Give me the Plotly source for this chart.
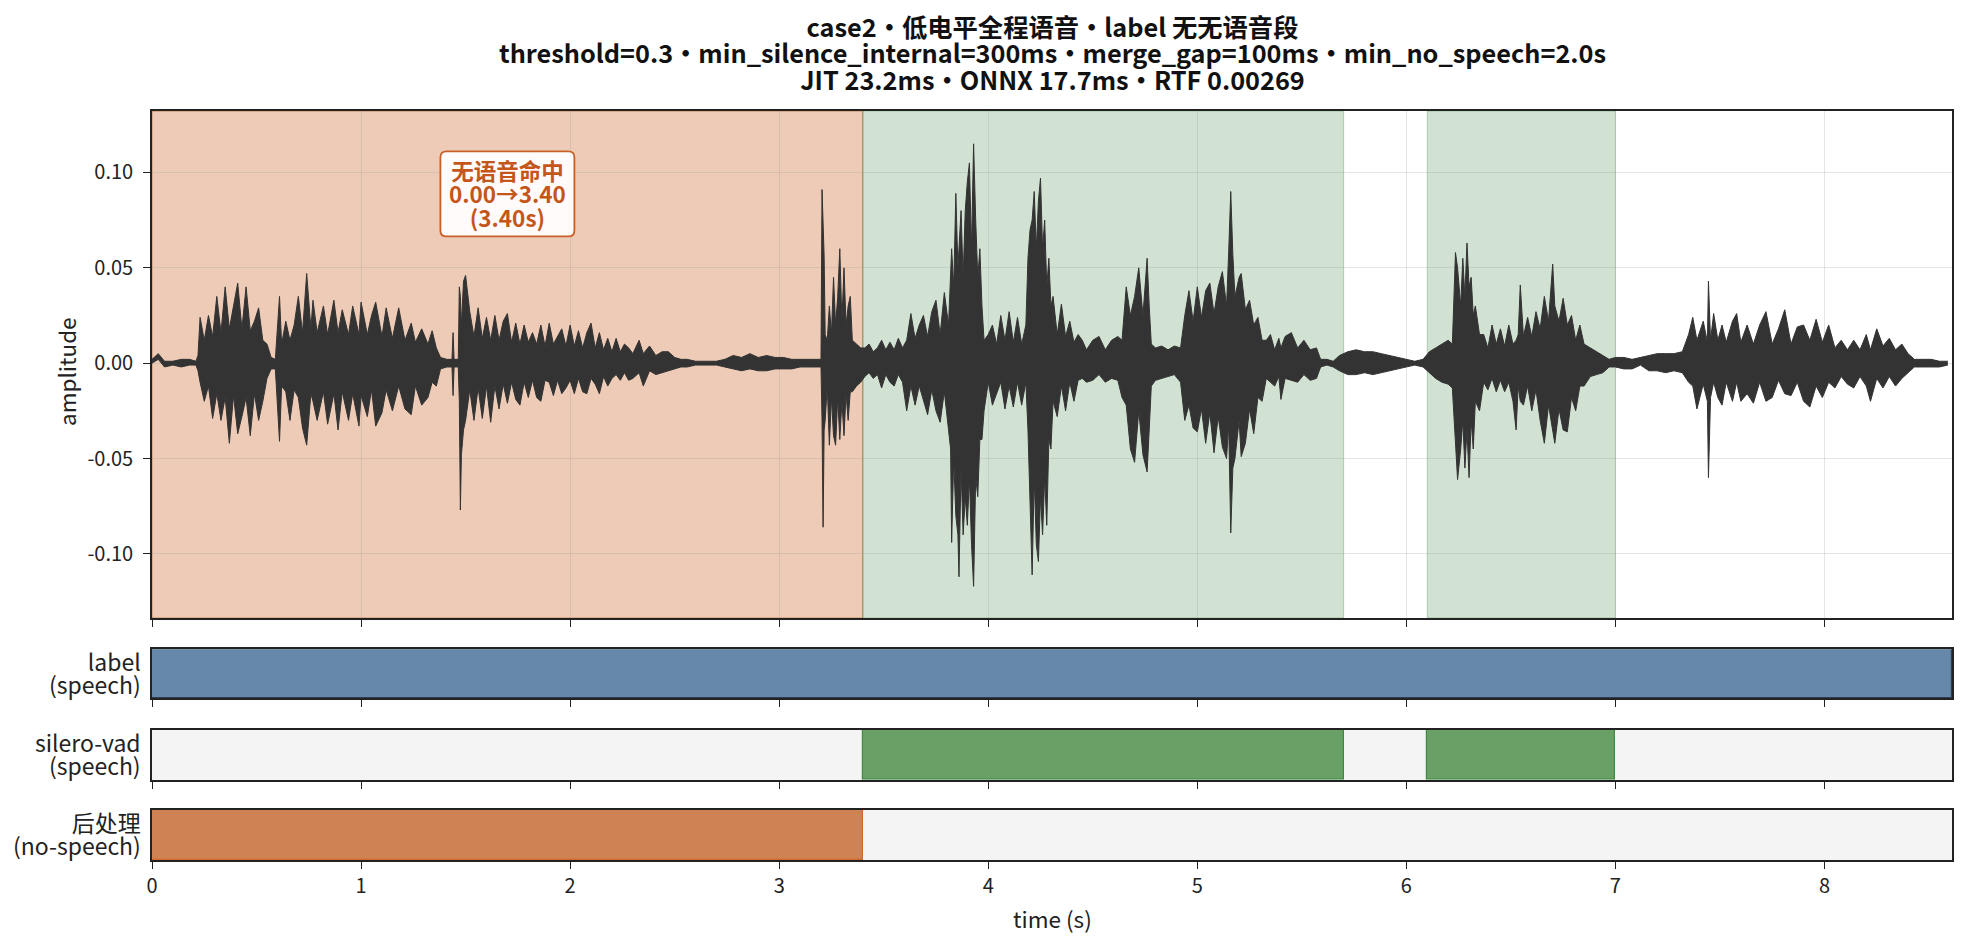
import plotly.graph_objects as go

# ---------------- data ----------------
duration = 8.61
title_lines = [
    "case2・低电平全程语音・label 无无语音段",
    "threshold=0.3・min_silence_internal=300ms・merge_gap=100ms・min_no_speech=2.0s",
    "JIT 23.2ms・ONNX 17.7ms・RTF 0.00269",
]

# waveform envelope: time (s), upper and lower excursion
wave_t = [
    0.00, 0.03, 0.06, 0.10, 0.14, 0.18, 0.21,
    0.22, 0.23, 0.25, 0.27, 0.29, 0.31, 0.33, 0.35, 0.37, 0.39, 0.41, 0.43, 0.45, 0.47, 0.49, 0.51, 0.53, 0.55, 0.57, 0.59,
    0.61, 0.62, 0.64, 0.66, 0.68, 0.70, 0.72, 0.74, 0.76, 0.77, 0.79, 0.82, 0.84, 0.87, 0.89, 0.91, 0.94, 0.96, 0.99,
    1.00, 1.03, 1.05, 1.07, 1.10, 1.12, 1.15, 1.18, 1.21, 1.24, 1.26, 1.29, 1.32, 1.34, 1.36, 1.38, 1.41,
    1.435, 1.44, 1.445, 1.465, 1.47, 1.475, 1.48, 1.49, 1.50,
    1.52, 1.54, 1.56, 1.58, 1.60, 1.62, 1.64, 1.66, 1.68, 1.70, 1.72, 1.74, 1.76, 1.78, 1.80, 1.82, 1.84, 1.86, 1.88,
    1.90, 1.92, 1.94, 1.96, 1.98, 2.00, 2.02, 2.04, 2.06, 2.08, 2.10, 2.12, 2.14, 2.16, 2.18, 2.20, 2.22, 2.24, 2.26,
    2.28, 2.30, 2.33, 2.35, 2.38, 2.41, 2.44, 2.47, 2.50, 2.53, 2.56, 2.60, 2.65, 2.70, 2.74, 2.78, 2.82, 2.86, 2.90,
    2.94, 2.98, 3.02, 3.06, 3.10, 3.14, 3.18, 3.20,
    3.205, 3.21, 3.215, 3.22, 3.23, 3.24, 3.25, 3.26, 3.27, 3.28, 3.29, 3.30, 3.31, 3.32, 3.33, 3.34, 3.35, 3.37, 3.39,
    3.41, 3.43, 3.45, 3.47, 3.49, 3.51, 3.53, 3.55, 3.57, 3.59, 3.61, 3.63, 3.65, 3.67, 3.69, 3.71, 3.73, 3.75, 3.77,
    3.79, 3.81, 3.82, 3.825, 3.835, 3.845, 3.855, 3.86, 3.87, 3.88, 3.89, 3.90, 3.91, 3.92, 3.93, 3.94, 3.95, 3.96,
    3.97, 3.98, 4.00, 4.02, 4.04, 4.06, 4.08, 4.10, 4.12, 4.14, 4.16, 4.18,
    4.19, 4.20, 4.21, 4.22, 4.23, 4.24, 4.25, 4.26, 4.27, 4.28, 4.29, 4.30, 4.31, 4.33, 4.35, 4.37, 4.39, 4.41, 4.43,
    4.45, 4.47, 4.50, 4.53, 4.56, 4.59, 4.62, 4.64, 4.66, 4.68, 4.70, 4.72, 4.74, 4.76, 4.77, 4.78, 4.80, 4.83, 4.86,
    4.89, 4.92, 4.94, 4.96, 4.98, 5.00, 5.02, 5.04, 5.06, 5.08, 5.10, 5.12, 5.14, 5.15, 5.16, 5.17, 5.18, 5.20, 5.21,
    5.23, 5.25, 5.27, 5.29, 5.31, 5.33, 5.35, 5.37, 5.39, 5.40, 5.42, 5.45, 5.48, 5.51, 5.54, 5.57, 5.59, 5.62, 5.65,
    5.68, 5.72, 5.76, 5.80, 5.84, 5.88, 5.92, 5.96, 6.00, 6.04, 6.08, 6.11, 6.14, 6.17, 6.20, 6.22,
    6.235, 6.245, 6.26, 6.27, 6.28, 6.29, 6.30, 6.31, 6.32, 6.33, 6.35, 6.37, 6.39, 6.41, 6.43, 6.45, 6.47, 6.49, 6.51,
    6.525, 6.535, 6.545, 6.56, 6.58, 6.60, 6.62, 6.64, 6.66, 6.68, 6.70, 6.71, 6.73, 6.75, 6.77, 6.79, 6.81, 6.83, 6.85,
    6.88, 6.91, 6.94, 6.97, 7.00, 7.04, 7.08, 7.12, 7.16, 7.20, 7.24, 7.28, 7.32, 7.35, 7.37, 7.39, 7.42, 7.44,
    7.445, 7.455, 7.47, 7.49, 7.51, 7.53, 7.56, 7.58, 7.60, 7.63, 7.66, 7.69, 7.72, 7.75, 7.78, 7.81, 7.84, 7.87, 7.90,
    7.93, 7.96, 7.99, 8.02, 8.05, 8.08, 8.11, 8.14, 8.17, 8.20, 8.22, 8.25, 8.28, 8.31, 8.34, 8.37, 8.40, 8.43, 8.47,
    8.51, 8.55, 8.59,
]
wave_hi = [
    .002, .005, .001, .001, .002, .002, .001,
    .004, .024, .012, .025, .014, .035, .016, .040, .018, .030, .042, .018, .040, .017, .022, .029, .012, .010, .003, .002,
    .035, .010, .022, .012, .020, .035, .016, .047, .018, .033, .016, .030, .015, .033, .016, .028, .015, .030, .015,
    .032, .015, .025, .032, .014, .029, .013, .029, .012, .021, .011, .018, .010, .017, .008, .003, .002,
    .002, .016, .002, .002, .040, .035, .020, .043, .046,
    .027, .014, .029, .013, .024, .012, .025, .012, .022, .026, .011, .021, .010, .020, .011, .016, .010, .020, .009,
    .021, .010, .014, .018, .009, .020, .009, .017, .008, .016, .021, .008, .016, .007, .013, .006, .013, .006, .010,
    .008, .005, .012, .005, .009, .004, .006, .006, .003, .002, .002, .001, .001, .001, .002, .004, .003, .005, .003,
    .004, .003, .003, .002, .002, .002, .002, .002,
    .091, .075, .056, .015, .012, .030, .015, .045, .020, .035, .060, .022, .050, .020, .030, .035, .012, .010, .008,
    .008, .010, .006, .008, .012, .007, .011, .007, .013, .008, .012, .026, .013, .020, .025, .014, .027, .033, .015,
    .037, .020, .045, .060, .040, .089, .050, .060, .080, .045, .080, .095, .105, .060, .115, .075, .045, .060,
    .030, .012, .015, .020, .010, .025, .012, .027, .011, .024, .010, .020,
    .055, .070, .075, .090, .060, .085, .097, .060, .075, .040, .055, .030, .035, .015, .031, .014, .022, .011, .015,
    .012, .007, .012, .014, .007, .012, .014, .012, .040, .025, .035, .050, .025, .055, .030, .010, .008, .009, .007,
    .009, .008, .025, .038, .022, .040, .024, .038, .042, .026, .040, .048, .030, .058, .090, .057, .035, .045, .047,
    .028, .033, .020, .024, .012, .012, .015, .007, .013, .008, .014, .016, .008, .012, .007, .008, .002, .002, .001,
    .004, .006, .007, .006, .006, .005, .004, .003, .002, .001, .002, .006, .008, .010, .012, .010,
    .058, .050, .030, .055, .035, .063, .040, .045, .025, .030, .015, .015, .008, .020, .010, .018, .009, .020, .010,
    .012, .015, .041, .014, .024, .014, .027, .018, .035, .022, .052, .030, .022, .034, .020, .025, .012, .020, .010,
    .008, .006, .004, .002, .003, .003, .002, .003, .004, .005, .005, .005, .006, .015, .024, .012, .022, .011,
    .043, .012, .026, .012, .020, .011, .022, .026, .011, .020, .010, .020, .027, .010, .018, .028, .010, .019, .020,
    .012, .023, .011, .020, .008, .012, .007, .012, .007, .015, .007, .018, .009, .013, .007, .010, .005, .002, .002,
    .002, .001, .001,
]
wave_lo = [
    .000, .002, -.002, -.001, -.002, -.001, -.001,
    -.004, -.010, -.020, -.012, -.029, -.016, -.030, -.018, -.042, -.017, -.037, -.028, -.018, -.038, -.016, -.030, -.020, -.008, -.003, -.003,
    -.041, -.012, -.015, -.030, -.014, -.018, -.034, -.043, -.016, -.020, -.030, -.015, -.032, -.016, -.035, -.015, -.030, -.016, -.033,
    -.017, -.028, -.014, -.033, -.026, -.014, -.025, -.012, -.024, -.027, -.012, -.022, -.018, -.010, -.012, -.003, -.002,
    -.002, -.017, -.002, -.002, -.020, -.077, -.048, -.035, -.030,
    -.014, -.030, -.013, -.029, -.012, -.031, -.012, -.024, -.011, -.021, -.010, -.019, -.022, -.010, -.018, -.009, -.018, -.020, -.009,
    -.010, -.017, -.009, -.016, -.013, -.009, -.016, -.008, -.015, -.016, -.008, -.011, -.016, -.007, -.012, -.008, -.006, -.009, -.005,
    -.009, -.008, -.005, -.012, -.004, -.006, -.005, -.004, -.003, -.002, -.002, -.001, -.001, -.001, -.002, -.003, -.004, -.003, -.004,
    -.004, -.003, -.003, -.003, -.002, -.002, -.002, -.002,
    -.030, -.086, -.035, -.030, -.012, -.043, -.018, -.038, -.043, -.018, -.040, -.020, -.038, -.016, -.030, -.015, -.015, -.012, -.010,
    -.007, -.005, -.008, -.006, -.013, -.006, -.010, -.012, -.006, -.010, -.025, -.012, -.022, -.012, -.020, -.027, -.014, -.025, -.031,
    -.015, -.035, -.045, -.094, -.050, -.080, -.090, -.112, -.055, -.090, -.070, -.085, -.060, -.095, -.117, -.060, -.070, -.040,
    -.040, -.025, -.010, -.022, -.016, -.010, -.024, -.012, -.023, -.010, -.022, -.010,
    -.035, -.080, -.111, -.060, -.095, -.104, -.070, -.090, -.060, -.085, -.040, -.045, -.020, -.028, -.012, -.025, -.010, -.020, -.009,
    -.008, -.010, -.009, -.006, -.010, -.008, -.009, -.018, -.022, -.045, -.052, -.025, -.048, -.057, -.035, -.012, -.009, -.008, -.007,
    -.006, -.010, -.030, -.022, -.034, -.036, -.024, -.042, -.026, -.047, -.028, -.044, -.050, -.032, -.089, -.055, -.050, -.030, -.049,
    -.042, -.024, -.037, -.018, -.020, -.008, -.010, -.012, -.007, -.019, -.008, -.009, -.010, -.006, -.009, -.008, -.002, -.001, -.002,
    -.004, -.006, -.006, -.005, -.006, -.005, -.004, -.003, -.002, -.001, -.002, -.005, -.008, -.010, -.011, -.013,
    -.040, -.061, -.045, -.030, -.055, -.035, -.060, -.030, -.045, -.020, -.025, -.010, -.014, -.008, -.015, -.009, -.015, -.010, -.020,
    -.035, -.012, -.020, -.022, -.012, -.025, -.014, -.030, -.042, -.022, -.036, -.042, -.024, -.035, -.036, -.018, -.025, -.012, -.012,
    -.007, -.006, -.005, -.002, -.002, -.003, -.003, -.001, -.004, -.004, -.005, -.004, -.005, -.010, -.012, -.024, -.011, -.020,
    -.060, -.018, -.010, -.018, -.022, -.010, -.020, -.010, -.020, -.016, -.021, -.010, -.020, -.018, -.009, -.016, -.017, -.010, -.020,
    -.023, -.012, -.018, -.010, -.013, -.007, -.011, -.013, -.007, -.012, -.020, -.008, -.013, -.007, -.012, -.008, -.005, -.002, -.002,
    -.002, -.002, -.001,
]
assert len(wave_t) == len(wave_hi) == len(wave_lo), (len(wave_t), len(wave_hi), len(wave_lo))

# segments (start s, end s)
label_speech = [(0.0, 8.61)]
vad_speech = [(3.4, 5.7), (6.1, 7.0)]
post_nospeech = [(0.0, 3.4)]

y_ticks = [-0.10, -0.05, 0.00, 0.05, 0.10]
y_ticktext = ["-0.10", "-0.05", "0.00", "0.05", "0.10"]
x_ticks = [0, 1, 2, 3, 4, 5, 6, 7, 8]

annot_lines = ["无语音命中", "0.00→3.40", "(3.40s)"]
row_labels = [("label", "(speech)"), ("silero-vad", "(speech)"), ("后处理", "(no-speech)")]

# ---------------- styles ----------------
FONT = "Noto Sans CJK SC"
INK = "#222222"
C_BLUE, C_BLUE_E = "#6689ab", "#2c3e55"
C_GREEN, C_GREEN_E = "#68a066", "#3f8a3f"
C_ORANGE, C_ORANGE_E = "#cf8254", "#d0692d"
C_EMPTY = "#f4f4f4"
SPAN_ORANGE = "rgba(205,110,55,0.36)"
SPAN_GREEN = "rgba(46,125,50,0.22)"
ANN_COLOR = "#c4561a"
WAVE = "#333333"


def multiline(lines, glyph_px, bold=False):
    """Lines joined with <br>; glyph size set per span so the outer font size controls line spacing."""
    parts = []
    for ln in lines:
        s = f"<span style='font-size:{glyph_px}px'>{ln}</span>"
        parts.append(f"<b>{s}</b>" if bold else s)
    return "<br>".join(parts)


# page has an 8px body margin; figure is sized so the plot lands where the reference has it
W, H = 1953, 931
ML, MR, MT, MB = 144, 7, 102.5, 79
PLOT_H = H - MT - MB
dom_main = [0.3231, 1.0]
dom_label = [0.2159, 0.2813]
dom_vad = [0.1070, 0.1740]
dom_post = [0.0, 0.0668]

fig = go.Figure()

# waveform (envelope, filled)
fig.add_trace(go.Scatter(x=wave_t, y=wave_hi, mode="lines",
                         line=dict(color=WAVE, width=1), xaxis="x", yaxis="y",
                         showlegend=False, hoverinfo="skip"))
fig.add_trace(go.Scatter(x=wave_t, y=wave_lo, mode="lines", fill="tonexty",
                         fillcolor=WAVE,
                         line=dict(color=WAVE, width=1), xaxis="x", yaxis="y",
                         showlegend=False, hoverinfo="skip"))

# state bars
def add_bar_row(axis_n, segments, color, edge):
    xa, ya = f"x{axis_n}", f"y{axis_n}"
    fig.add_trace(go.Bar(y=[0], x=[duration], base=[0], orientation="h", width=1,
                         marker=dict(color=C_EMPTY, line=dict(width=0)),
                         xaxis=xa, yaxis=ya, showlegend=False, hoverinfo="skip"))
    fig.add_trace(go.Bar(y=[0] * len(segments), x=[e - s for s, e in segments],
                         base=[s for s, e in segments], orientation="h", width=1,
                         marker=dict(color=color, line=dict(color=edge, width=1.2)),
                         xaxis=xa, yaxis=ya, showlegend=False, hoverinfo="skip"))

add_bar_row(2, label_speech, C_BLUE, C_BLUE_E)
add_bar_row(3, vad_speech, C_GREEN, C_GREEN_E)
add_bar_row(4, post_nospeech, C_ORANGE, C_ORANGE_E)

shapes = []
for s, e in post_nospeech:
    shapes.append(dict(type="rect", xref="x", yref="y domain", x0=s, x1=e, y0=0, y1=1,
                       fillcolor=SPAN_ORANGE, line=dict(color="rgba(180,110,50,0.7)", width=1),
                       layer="below"))
for s, e in vad_speech:
    shapes.append(dict(type="rect", xref="x", yref="y domain", x0=s, x1=e, y0=0, y1=1,
                       fillcolor=SPAN_GREEN, line=dict(color="rgba(46,125,50,0.3)", width=1),
                       layer="below"))

# annotation box anchored at the centre of the no-speech span
ns_s, ns_e = post_nospeech[0]
ann_x, ann_y = (ns_s + ns_e) / 2, 0.0887
bw, bh, r = 67, 42.5, 6
box_path = (f"M {-bw + r},{-bh} L {bw - r},{-bh} Q {bw},{-bh} {bw},{-bh + r} "
            f"L {bw},{bh - r} Q {bw},{bh} {bw - r},{bh} L {-bw + r},{bh} "
            f"Q {-bw},{bh} {-bw},{bh - r} L {-bw},{-bh + r} Q {-bw},{-bh} {-bw + r},{-bh} Z")
shapes.append(dict(type="path", xref="x", yref="y", xsizemode="pixel", ysizemode="pixel",
                   xanchor=ann_x, yanchor=ann_y, path=box_path,
                   fillcolor="rgba(255,255,255,0.92)", line=dict(color="#c8602a", width=1.8),
                   layer="above"))

annotations = []
annotations.append(dict(x=ann_x, y=ann_y, xref="x", yref="y",
                        text=multiline(annot_lines, 22.5, bold=True),
                        showarrow=False, align="center",
                        font=dict(family=FONT, size=18, color=ANN_COLOR),
                        xanchor="center", yanchor="middle"))
for lines, dom in zip(row_labels, [dom_label, dom_vad, dom_post]):
    yc = (dom[0] + dom[1]) / 2
    annotations.append(dict(x=0, y=yc, xref="paper", yref="paper", text=multiline(lines, 23),
                            showarrow=False, xanchor="right", yanchor="middle", align="right",
                            xshift=-9, yshift=1, font=dict(family=FONT, size=18, color=INK)))
annotations.append(dict(x=-0.0474, y=0.6524, xref="paper", yref="paper",
                        text="amplitude", textangle=-90, showarrow=False, xanchor="center",
                        yanchor="middle", font=dict(family=FONT, size=22.5, color=INK)))
annotations.append(dict(x=0.5, y=-0.0774, xref="paper", yref="paper", text="time (s)",
                        showarrow=False, xanchor="center", yanchor="middle",
                        font=dict(family=FONT, size=22.5, color=INK)))
# title block (page y centre of middle line = 51.5 px, line pitch 26.4 px)
annotations.append(dict(x=0.5, y=(MT + PLOT_H - (51.5 - 8)) / PLOT_H, xref="paper", yref="paper",
                        text=multiline(title_lines, 25.3, bold=True), showarrow=False,
                        xanchor="center", yanchor="middle", align="center",
                        font=dict(family=FONT, size=20.3, color="#111111")))

frame = dict(showline=True, linecolor=INK, linewidth=1.6, mirror=True, zeroline=False)
xcommon = dict(range=[0, duration], tickvals=x_ticks, ticks="outside", ticklen=7, tickwidth=1.4,
               tickcolor=INK, tickfont=dict(family=FONT, size=20, color=INK), **frame)

layout = dict(
    width=W, height=H, margin=dict(l=ML, r=MR, t=MT, b=MB),
    paper_bgcolor="white", plot_bgcolor="white",
    font=dict(family=FONT, color=INK),
    xaxis=dict(domain=[0, 1], anchor="y", showticklabels=False, showgrid=True,
               gridcolor="rgba(150,150,150,0.25)", gridwidth=1, **xcommon),
    yaxis=dict(domain=dom_main, anchor="x", range=[-0.1336, 0.1322], tickvals=y_ticks,
               ticktext=y_ticktext, ticks="outside", ticklen=7, tickwidth=1.4, tickcolor=INK,
               ticklabelstandoff=6,
               tickfont=dict(family=FONT, size=20, color=INK), showgrid=True,
               gridcolor="rgba(150,150,150,0.25)", gridwidth=1, **frame),
    shapes=shapes, annotations=annotations, bargap=0, barmode="overlay",
)
for n, dom in [(2, dom_label), (3, dom_vad), (4, dom_post)]:
    layout[f"xaxis{n}"] = dict(domain=[0, 1], anchor=f"y{n}", showticklabels=(n == 4),
                               showgrid=False, **xcommon)
    layout[f"yaxis{n}"] = dict(domain=dom, anchor=f"x{n}", range=[-0.5, 0.5],
                               showticklabels=False, ticks="", showgrid=False, **frame)

fig.update_layout(**layout)
fig.write_html("out.html")
